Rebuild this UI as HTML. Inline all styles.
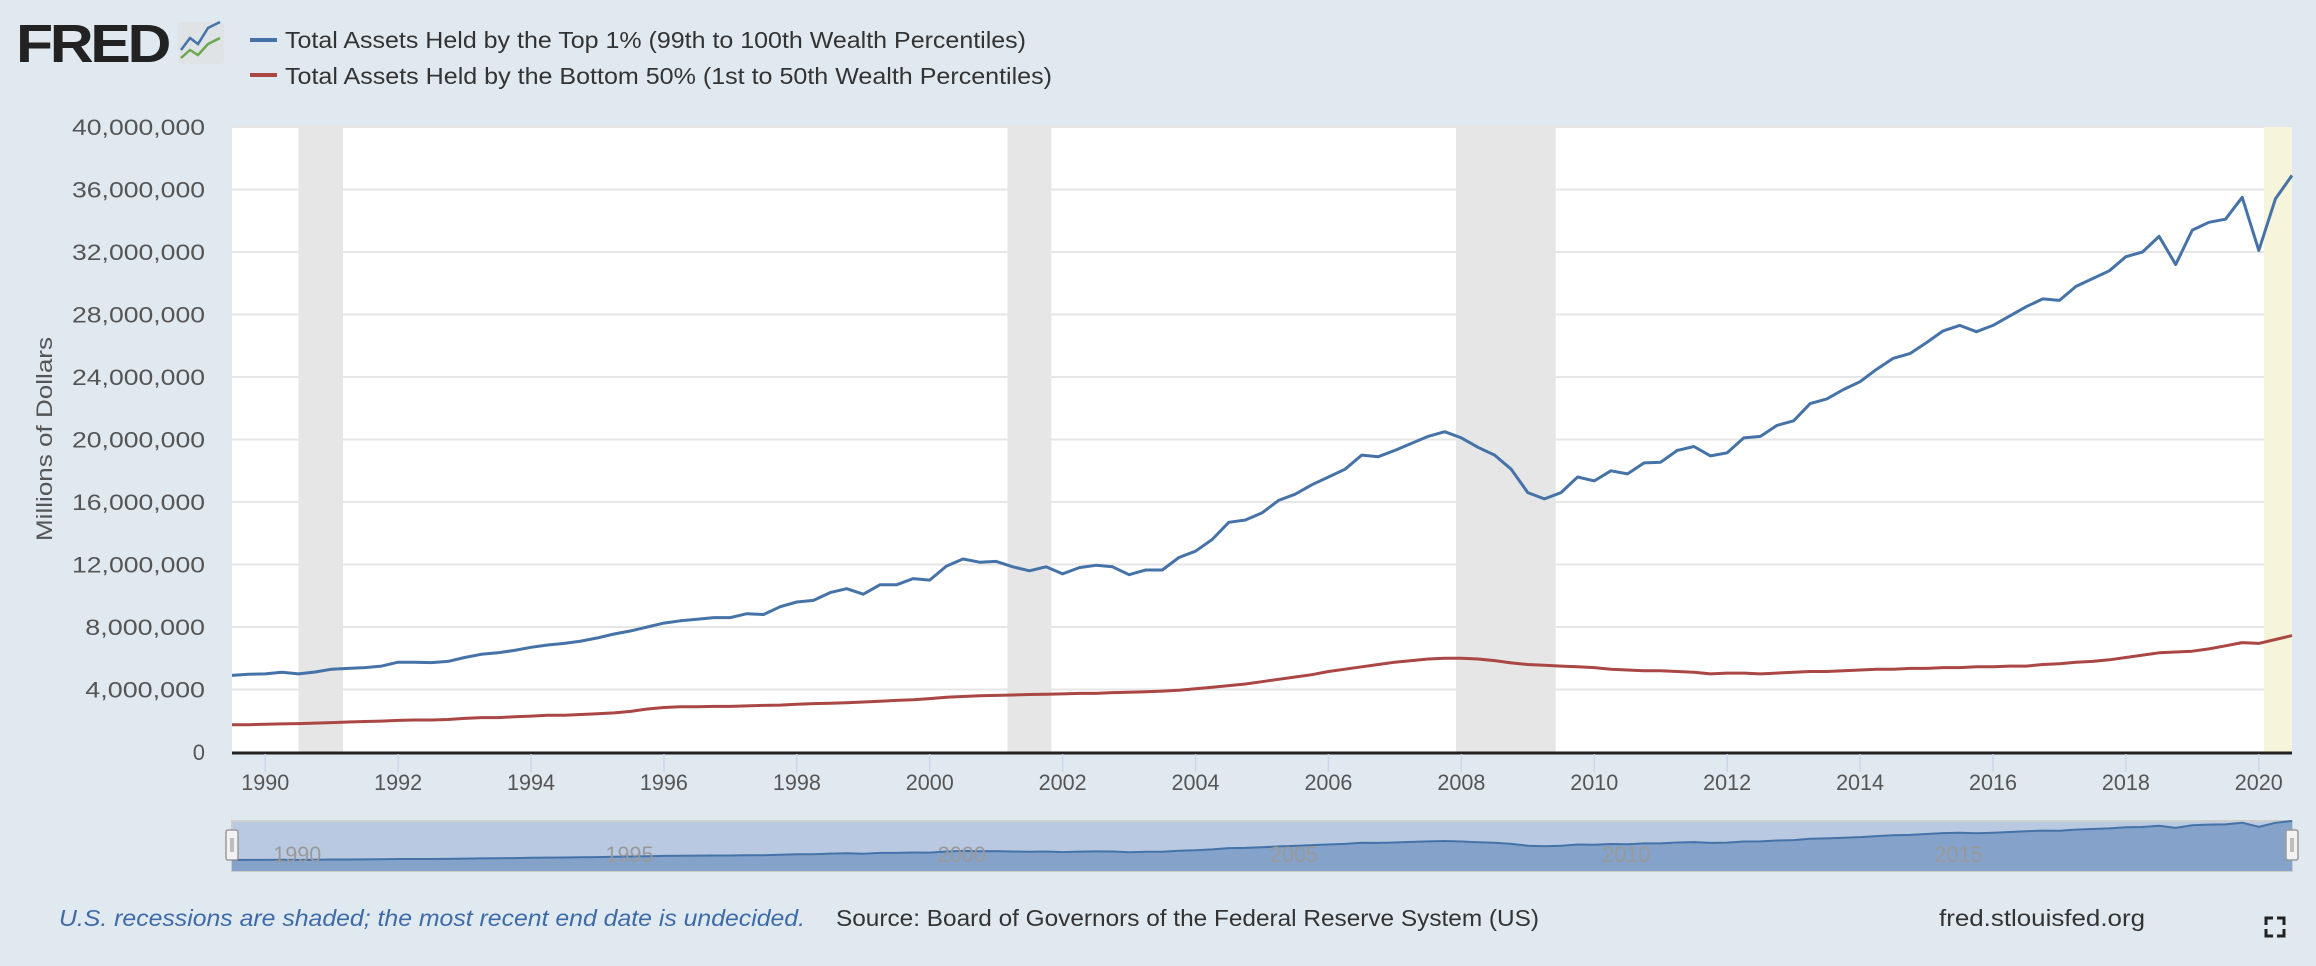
<!DOCTYPE html>
<html><head><meta charset="utf-8">
<style>
html,body{margin:0;padding:0;background:#e1e9f0;}
svg{display:block;font-family:"Liberation Sans",sans-serif;}
</style></head>
<body>
<svg id="chart" width="2316" height="966" viewBox="0 0 2316 966" xmlns="http://www.w3.org/2000/svg">
<rect x="0" y="0" width="2316" height="966" fill="#e1e9f0"/>
<g>
<text x="16" y="62" font-size="54" font-weight="bold" fill="#222" letter-spacing="-3" textLength="152" lengthAdjust="spacingAndGlyphs">FRED</text>
<rect x="178" y="22" width="46" height="42" rx="3" fill="#dfe3e6"/>
<polyline points="181,50 190,38 198,44 208,28 220,22" fill="none" stroke="#4572a7" stroke-width="2.5"/>
<polyline points="181,58 190,50 198,55 208,44 220,38" fill="none" stroke="#6aa84f" stroke-width="2.5"/>
</g>
<g>
<g>
<rect x="250" y="38" width="27" height="4" fill="#4572a7"/>
<text x="285" y="48" font-size="23" fill="#333" textLength="741" lengthAdjust="spacingAndGlyphs">Total Assets Held by the Top 1% (99th to 100th Wealth Percentiles)</text>
</g>
<g>
<rect x="250" y="73" width="27" height="4" fill="#aa4643"/>
<text x="285" y="84" font-size="23" fill="#333" textLength="767" lengthAdjust="spacingAndGlyphs">Total Assets Held by the Bottom 50% (1st to 50th Wealth Percentiles)</text>
</g>
</g>
<rect x="232" y="127" width="2060" height="625" fill="#ffffff"/>
<g id="grid"></g>
<g id="recessions"></g>
<g id="yaxis"></g>
<g id="xaxis"></g>
<g id="series"></g>
<text transform="translate(52,439) rotate(-90)" text-anchor="middle" font-size="22" fill="#555" textLength="204" lengthAdjust="spacingAndGlyphs">Millions of Dollars</text>
<g id="navigator"></g>
<text x="59" y="926" font-size="23" font-style="italic" fill="#3d6ba8" textLength="746" lengthAdjust="spacingAndGlyphs">U.S. recessions are shaded; the most recent end date is undecided.</text>
<text x="836" y="926" font-size="23" fill="#333" textLength="703" lengthAdjust="spacingAndGlyphs">Source: Board of Governors of the Federal Reserve System (US)</text>
<text x="1939" y="926" font-size="23" fill="#333" textLength="206" lengthAdjust="spacingAndGlyphs">fred.stlouisfed.org</text>
<g stroke="#222" stroke-width="3" fill="none">
<polyline points="2266,925 2266,918 2273,918"/>
<polyline points="2277,918 2284,918 2284,925"/>
<polyline points="2266,929 2266,936 2273,936"/>
<polyline points="2277,936 2284,936 2284,929"/>
</g>
</svg>
<script>
const topVals=[4.90,4.98,
5.00,5.10,5.00,5.12, 5.30,5.35,5.40,5.50, 5.75,5.75,5.72,5.80, 6.05,6.25,6.35,6.50,
6.70,6.85,6.95,7.10, 7.30,7.55,7.75,8.00, 8.25,8.40,8.50,8.60, 8.60,8.85,8.80,9.30,
9.60,9.70,10.20,10.45, 10.10,10.70,10.70,11.10, 11.00,11.90,12.35,12.15, 12.20,11.85,11.60,11.85,
11.40,11.80,11.95,11.85, 11.35,11.65,11.65,12.45, 12.85,13.60,14.70,14.85, 15.30,16.10,16.50,17.10,
17.60,18.10,19.00,18.90, 19.30,19.75,20.20,20.50, 20.10,19.50,19.00,18.10, 16.60,16.20,16.60,17.60,
17.35,18.00,17.80,18.50, 18.55,19.30,19.55,18.95, 19.15,20.10,20.20,20.90, 21.20,22.30,22.60,23.20,
23.70,24.50,25.20,25.50, 26.20,26.95,27.30,26.90, 27.30,27.90,28.50,29.00, 28.90,29.80,30.30,30.80,
31.70,32.00,33.00,31.20, 33.40,33.90,34.10,35.50, 32.10,35.40,36.90];
const bottomVals=[1.75,1.75,
1.78,1.80,1.82,1.85, 1.88,1.92,1.95,1.98, 2.02,2.05,2.05,2.08, 2.15,2.20,2.20,2.25,
2.30,2.35,2.35,2.40, 2.45,2.50,2.60,2.75, 2.85,2.90,2.90,2.92, 2.92,2.95,2.98,3.00,
3.05,3.10,3.12,3.15, 3.20,3.25,3.30,3.35, 3.42,3.50,3.55,3.60, 3.62,3.65,3.68,3.70,
3.72,3.75,3.75,3.80, 3.82,3.85,3.90,3.95, 4.05,4.15,4.25,4.35, 4.50,4.65,4.80,4.95,
5.15,5.30,5.45,5.60, 5.75,5.85,5.95,6.00, 6.00,5.95,5.85,5.70, 5.60,5.55,5.50,5.45,
5.40,5.30,5.25,5.20, 5.20,5.15,5.10,5.00, 5.05,5.05,5.00,5.05, 5.10,5.15,5.15,5.20,
5.25,5.30,5.30,5.35, 5.35,5.40,5.40,5.45, 5.45,5.50,5.50,5.60, 5.65,5.75,5.80,5.90,
6.05,6.20,6.35,6.40, 6.45,6.60,6.80,7.00, 6.95,7.20,7.45];
const startYear=1989.5;
const yTicks=[0,4,8,12,16,20,24,28,32,36,40];
const yTickLabels=["0","4,000,000","8,000,000","12,000,000","16,000,000","20,000,000","24,000,000","28,000,000","32,000,000","36,000,000","40,000,000"];
const xTicks=[1990,1992,1994,1996,1998,2000,2002,2004,2006,2008,2010,2012,2014,2016,2018,2020];
const navTicks=[1990,1995,2000,2005,2010,2015];
const recStart=[1990.5,2001.17,2007.92,2020.08];
const recEnd=[1991.17,2001.83,2009.42,2020.5];

const NS="http://www.w3.org/2000/svg";
const L=232,R=2292,T=127,B=752,X0=1989.5,X1=2020.5;
const xs=v=>L+(v-X0)/(X1-X0)*(R-L);
const ys=v=>B-v/40*(B-T);
const NB=871;
function mk(tag,attrs,parent){const e=document.createElementNS(NS,tag);for(const k in attrs)e.setAttribute(k,attrs[k]);parent.appendChild(e);return e;}
const grid=document.getElementById('grid'),rec=document.getElementById('recessions'),ya=document.getElementById('yaxis'),xa=document.getElementById('xaxis'),ser=document.getElementById('series'),nav=document.getElementById('navigator');
yTicks.forEach((t,i)=>{
 if(t>0){const g=mk('line',{x1:L,x2:R,y1:ys(t),y2:ys(t),stroke:'#e6e6e6','stroke-width':2},grid);
 
 }
 const lab=yTickLabels[i];
 const attrs={x:205,y:ys(t)+8,'text-anchor':'end','font-size':22,fill:'#555'};
 if(lab.length>1){attrs.textLength=lab.length*13.3;attrs.lengthAdjust='spacingAndGlyphs';}
 const tx=mk('text',attrs,ya);
 tx.textContent=lab;
 
 
});
recStart.forEach((s,i)=>{
 const r=mk('rect',{x:xs(s),y:T,width:xs(recEnd[i])-xs(s),height:B-T,fill:i==3?'#f6f5dc':'#e6e6e6'},rec);
 
 
});
const ax=mk('line',{x1:L,x2:R,y1:B+1,y2:B+1,stroke:'#222','stroke-width':3},xa);


xTicks.forEach(t=>{
 const l=mk('line',{x1:xs(t),x2:xs(t),y1:B+2,y2:B+20,stroke:'#ccd6eb','stroke-width':1.5},xa);
 
 
 const tx=mk('text',{x:xs(t),y:B+38,'text-anchor':'middle','font-size':22,fill:'#555',textLength:48,lengthAdjust:'spacingAndGlyphs'},xa);
 tx.textContent=t;
 
 
});
function pts(vals,yf){return vals.map((v,i)=>xs(startYear+i/4).toFixed(1)+','+yf(v).toFixed(1)).join(' ');}
const lb=mk('polyline',{points:pts(bottomVals,ys),fill:'none',stroke:'#aa4643','stroke-width':3,'stroke-linejoin':'round'},ser);


const lt=mk('polyline',{points:pts(topVals,ys),fill:'none',stroke:'#4572a7','stroke-width':3,'stroke-linejoin':'round'},ser);


// navigator
const nbg=mk('rect',{x:L,y:821,width:R-L,height:50,fill:'#b9c9e2',stroke:'#cccccc','stroke-width':2},nav);


const nyf=v=>866-v*1.22;
const area=mk('polygon',{points:xs(startYear)+','+NB+' '+pts(topVals,nyf)+' '+xs(startYear+(topVals.length-1)/4)+','+NB,fill:'#85a3ca'},nav);


const nl=mk('polyline',{points:pts(topVals,nyf),fill:'none',stroke:'#4572a7','stroke-width':2},nav);


navTicks.forEach(t=>{
 const tx=mk('text',{x:xs(t)+8,y:862,'font-size':22,fill:'#999',textLength:48,lengthAdjust:'spacingAndGlyphs'},nav);
 tx.textContent=t;
 
 
});
[L-6,R-6].forEach((x,i)=>{
 const h=mk('rect',{x:x,y:830,width:12,height:30,rx:2,fill:'#f2f2f2',stroke:'#999','stroke-width':1.5},nav);
 
 
 mk('line',{x1:x+5,x2:x+5,y1:838,y2:852,stroke:'#888'},nav);
 mk('line',{x1:x+7,x2:x+7,y1:838,y2:852,stroke:'#888'},nav);
});
</script>
</body></html>
